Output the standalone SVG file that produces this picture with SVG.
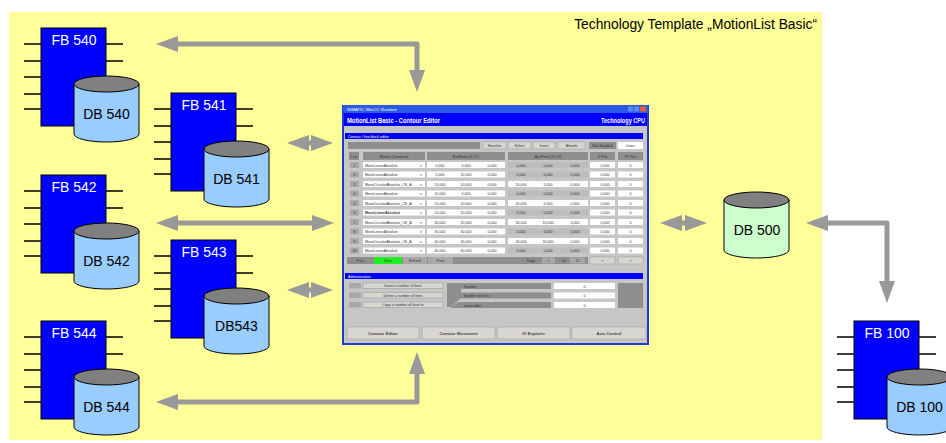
<svg xmlns="http://www.w3.org/2000/svg" width="946" height="443" viewBox="0 0 946 443">
<style>
.pin{stroke:#000;stroke-width:1.7}
.fb{fill:#0000ff;stroke:#000;stroke-width:1}
.cyl{fill:#99ccff;stroke:#000;stroke-width:1}
.cyl2{fill:#ccffcc;stroke:#000;stroke-width:1}
.top{fill:#808080;stroke:#000;stroke-width:1}
.fbt{font-family:"Liberation Sans",Arial,sans-serif;font-size:14px;fill:#fff;text-anchor:middle}
.dbt{font-family:"Liberation Sans",Arial,sans-serif;font-size:14px;fill:#000;text-anchor:middle}
.arr{fill:none;stroke:#999;stroke-width:5;stroke-linejoin:round;marker-start:url(#ah);marker-end:url(#ah)}
.t{font-family:"Liberation Sans",Arial,sans-serif;font-size:3.6px;fill:#333;text-anchor:middle}
.tl{font-family:"Liberation Sans",Arial,sans-serif;font-size:3.6px;fill:#333}
.tw{font-family:"Liberation Sans",Arial,sans-serif;font-size:3.6px;fill:#fff}
.tb{font-family:"Liberation Sans",Arial,sans-serif;font-size:4.2px;font-weight:bold;fill:#444;text-anchor:middle}
.w{fill:#fff}
.g1{fill:#a8a8a8}
.g2{fill:#8e8e8e}
.g3{fill:#bdbdbd}
.btn{fill:#d8d6d0;stroke:#a0a0a0;stroke-width:0.6}
</style>
<defs>
<marker id="ah" viewBox="0 0 22 16" refX="1" refY="8" markerWidth="22" markerHeight="16" markerUnits="userSpaceOnUse" orient="auto-start-reverse">
<path d="M0,0 L22,8 L0,16 z" fill="#999"/>
</marker>
</defs>
<rect x="9" y="12" width="813" height="428" fill="#ffff99"/>
<text x="817" y="29" font-family="Liberation Sans, Arial, sans-serif" font-size="13.8" text-anchor="end" fill="#000">Technology Template „MotionList Basic“</text>

<g id="connectors">
<path class="arr" d="M177,44 L417,44 L417,71"/>
<path class="arr" d="M308,143 L312,143"/>
<path class="arr" d="M177,223 L313,223"/>
<path class="arr" d="M308,290 L312,290"/>
<path class="arr" d="M177,402 L417,402 L417,373"/>
<path class="arr" d="M681,223 L686,223"/>
<path class="arr" d="M827,223 L887,223 L887,282"/>
</g>

<g id="fb540" transform="translate(41,28)">
<path class="pin" d="M-17,16H0M-17,33H0M-17,49H0M-17,66H0M-17,81H0M65,16H82M65,33H82"/>
<rect class="fb" x="0" y="0" width="65" height="98"/>
<text class="fbt" x="33" y="17">FB 540</text>
<path class="cyl" d="M33,56 V106 A32.5,8 0 0 0 98,106 V56 Z"/>
<ellipse class="top" cx="65.5" cy="56" rx="32.5" ry="8"/>
<text class="dbt" x="65.5" y="91">DB 540</text>
</g>
<g id="fb541" transform="translate(171,93)">
<path class="pin" d="M-17,16H0M-17,33H0M-17,49H0M-17,66H0M-17,81H0M65,16H82M65,33H82"/>
<rect class="fb" x="0" y="0" width="65" height="98"/>
<text class="fbt" x="33" y="17">FB 541</text>
<path class="cyl" d="M33,56 V106 A32.5,8 0 0 0 98,106 V56 Z"/>
<ellipse class="top" cx="65.5" cy="56" rx="32.5" ry="8"/>
<text class="dbt" x="65.5" y="91">DB 541</text>
</g>
<g id="fb542" transform="translate(41,175)">
<path class="pin" d="M-17,16H0M-17,33H0M-17,49H0M-17,66H0M-17,81H0M65,16H82M65,33H82"/>
<rect class="fb" x="0" y="0" width="65" height="98"/>
<text class="fbt" x="33" y="17">FB 542</text>
<path class="cyl" d="M33,56 V106 A32.5,8 0 0 0 98,106 V56 Z"/>
<ellipse class="top" cx="65.5" cy="56" rx="32.5" ry="8"/>
<text class="dbt" x="65.5" y="91">DB 542</text>
</g>
<g id="fb543" transform="translate(171,240)">
<path class="pin" d="M-17,16H0M-17,33H0M-17,49H0M-17,66H0M-17,81H0M65,16H82M65,33H82"/>
<rect class="fb" x="0" y="0" width="65" height="98"/>
<text class="fbt" x="33" y="17">FB 543</text>
<path class="cyl" d="M33,56 V106 A32.5,8 0 0 0 98,106 V56 Z"/>
<ellipse class="top" cx="65.5" cy="56" rx="32.5" ry="8"/>
<text class="dbt" x="65.5" y="91">DB543</text>
</g>
<g id="fb544" transform="translate(41,321)">
<path class="pin" d="M-17,16H0M-17,33H0M-17,49H0M-17,66H0M-17,81H0M65,16H82M65,33H82"/>
<rect class="fb" x="0" y="0" width="65" height="98"/>
<text class="fbt" x="33" y="17">FB 544</text>
<path class="cyl" d="M33,56 V106 A32.5,8 0 0 0 98,106 V56 Z"/>
<ellipse class="top" cx="65.5" cy="56" rx="32.5" ry="8"/>
<text class="dbt" x="65.5" y="91">DB 544</text>
</g>
<g id="fb100" transform="translate(854,321)">
<path class="pin" d="M-17,16H0M-17,33H0M-17,49H0M-17,66H0M-17,81H0M65,16H82M65,33H82"/>
<rect class="fb" x="0" y="0" width="65" height="98"/>
<text class="fbt" x="33" y="17">FB 100</text>
<path class="cyl" d="M33,56 V106 A32.5,8 0 0 0 98,106 V56 Z"/>
<ellipse class="top" cx="65.5" cy="56" rx="32.5" ry="8"/>
<text class="dbt" x="65.5" y="91">DB 100</text>
</g>
<g id="db500">
<path class="cyl2" d="M724,200 V250 A32.5,8 0 0 0 789,250 V200 Z"/>
<ellipse class="top" cx="756.5" cy="200" rx="32.5" ry="8"/>
<text class="dbt" x="757" y="235">DB 500</text>
</g>

<g id="screen">
<rect x="343" y="106" width="305" height="238" fill="#c6c6c6" stroke="#1e3cd2" stroke-width="2"/>
<rect x="343" y="105" width="305" height="8" fill="#2a5ae6"/>
<text class="tw" x="347" y="111" textLength="50" lengthAdjust="spacingAndGlyphs">SIMATIC WinCC Runtime</text>
<rect x="628" y="106.5" width="5" height="5" fill="#5a8af2"/>
<rect x="634" y="106.5" width="5" height="5" fill="#5a8af2"/>
<rect x="640" y="106.5" width="6" height="5" fill="#e0602a"/>
<rect x="344" y="113" width="303" height="13" fill="#0000ff"/>
<text x="347" y="122.5" font-family="Liberation Sans, Arial, sans-serif" font-size="7.5" font-weight="bold" fill="#fff" textLength="93" lengthAdjust="spacingAndGlyphs">MotionList Basic - Contour Editor</text>
<text x="645" y="122.5" font-family="Liberation Sans, Arial, sans-serif" font-size="7.5" font-weight="bold" fill="#fff" text-anchor="end" textLength="44" lengthAdjust="spacingAndGlyphs">Technology CPU</text>

<rect x="345" y="133" width="298" height="6" fill="#0000ff"/>
<text class="tw" x="348" y="137.5">Contour / line-block editor</text>

<rect x="348" y="142" width="132" height="7" class="g2"/>
<rect x="483" y="142" width="23" height="7" class="btn"/><text class="t" x="494.5" y="147">Simulate</text>
<rect x="508" y="142" width="23" height="7" class="btn" stroke="#333"/><text class="t" x="519.5" y="147">Select</text>
<rect x="533" y="142" width="22" height="7" class="btn"/><text class="t" x="544" y="147">Insert</text>
<rect x="558" y="142" width="27" height="7" class="btn"/><text class="t" x="571.5" y="147">Absorb</text>
<rect x="589" y="142" width="27" height="7" class="g2"/><text class="t" x="602.5" y="147">Edit Enabled</text>
<rect x="618" y="142" width="25" height="7" class="w"/><text class="t" x="630.5" y="147">Lines</text>

<g id="table-head">
<rect x="349" y="152" width="10" height="8" class="g2"/><text class="t" x="354" y="157.5">Line</text>
<rect x="363" y="152" width="62" height="8" class="g2"/><text class="t" x="394" y="157.5">Motion Command</text>
<rect x="427" y="152" width="78" height="8" class="g2"/><text class="t" x="466" y="157.5">EndPoint (X,Y,Z)</text>
<rect x="508" y="152" width="80" height="8" class="g2"/><text class="t" x="548" y="157.5">AuxPoint (X,Y,Z)</text>
<rect x="590" y="152" width="25" height="8" class="g2"/><text class="t" x="602.5" y="157.5">X Pos</text>
<rect x="618" y="152" width="25" height="8" class="g2"/><text class="t" x="630.5" y="157.5">Pk Pos</text>
</g>

<g id="rows">
<g transform="translate(0,162)">
<rect x="350" y="0" width="9" height="6" class="g1"/><text class="t" x="354.5" y="4.5">1</text>
<rect x="363" y="0" width="62" height="6" class="w"/><text class="tl" x="365" y="4.5">MoveLinearAbsolute</text><text class="tl" x="420" y="4.5">v</text>
<rect x="427" y="0" width="78" height="6" class="w"/><text class="t" x="440" y="4.5">0,000</text><text class="t" x="466" y="4.5">0,000</text><text class="t" x="492" y="4.5">0,000</text>
<rect x="508" y="0" width="80" height="6" class="g3"/><text class="t" x="521" y="4.5">0,000</text><text class="t" x="548" y="4.5">0,000</text><text class="t" x="575" y="4.5">0,000</text>
<rect x="590" y="0" width="25" height="6" class="w"/><text class="t" x="605" y="4.5">0,000</text>
<rect x="618" y="0" width="25" height="6" class="w"/><text class="t" x="630.5" y="4.5">0</text>
</g>
<g transform="translate(0,171.5)">
<rect x="350" y="0" width="9" height="6" class="g1"/><text class="t" x="354.5" y="4.5">2</text>
<rect x="363" y="0" width="62" height="6" class="w"/><text class="tl" x="365" y="4.5">MoveLinearAbsolute</text><text class="tl" x="420" y="4.5">v</text>
<rect x="427" y="0" width="78" height="6" class="w"/><text class="t" x="440" y="4.5">0,000</text><text class="t" x="466" y="4.5">10,000</text><text class="t" x="492" y="4.5">0,000</text>
<rect x="508" y="0" width="80" height="6" class="g3"/><text class="t" x="521" y="4.5">0,000</text><text class="t" x="548" y="4.5">0,000</text><text class="t" x="575" y="4.5">0,000</text>
<rect x="590" y="0" width="25" height="6" class="w"/><text class="t" x="605" y="4.5">0,000</text>
<rect x="618" y="0" width="25" height="6" class="w"/><text class="t" x="630.5" y="4.5">0</text>
</g>
<g transform="translate(0,181)">
<rect x="350" y="0" width="9" height="6" class="g1"/><text class="t" x="354.5" y="4.5">3</text>
<rect x="363" y="0" width="62" height="6" class="w"/><text class="tl" x="365" y="4.5">MoveCircularAbsolute_CE_A</text><text class="tl" x="420" y="4.5">v</text>
<rect x="427" y="0" width="78" height="6" class="w"/><text class="t" x="440" y="4.5">10,000</text><text class="t" x="466" y="4.5">10,000</text><text class="t" x="492" y="4.5">0,000</text>
<rect x="508" y="0" width="80" height="6" class="w"/><text class="t" x="521" y="4.5">10,000</text><text class="t" x="548" y="4.5">5,000</text><text class="t" x="575" y="4.5">0,000</text>
<rect x="590" y="0" width="25" height="6" class="w"/><text class="t" x="605" y="4.5">0,000</text>
<rect x="618" y="0" width="25" height="6" class="w"/><text class="t" x="630.5" y="4.5">0</text>
</g>
<g transform="translate(0,190.5)">
<rect x="350" y="0" width="9" height="6" class="g1"/><text class="t" x="354.5" y="4.5">4</text>
<rect x="363" y="0" width="62" height="6" class="w"/><text class="tl" x="365" y="4.5">MoveLinearAbsolute</text><text class="tl" x="420" y="4.5">v</text>
<rect x="427" y="0" width="78" height="6" class="w"/><text class="t" x="440" y="4.5">10,000</text><text class="t" x="466" y="4.5">0,000</text><text class="t" x="492" y="4.5">0,000</text>
<rect x="508" y="0" width="80" height="6" class="g3"/><text class="t" x="521" y="4.5">0,000</text><text class="t" x="548" y="4.5">0,000</text><text class="t" x="575" y="4.5">0,000</text>
<rect x="590" y="0" width="25" height="6" class="w"/><text class="t" x="605" y="4.5">0,000</text>
<rect x="618" y="0" width="25" height="6" class="w"/><text class="t" x="630.5" y="4.5">0</text>
</g>
<g transform="translate(0,200)">
<rect x="350" y="0" width="9" height="6" class="g1"/><text class="t" x="354.5" y="4.5">5</text>
<rect x="363" y="0" width="62" height="6" class="w"/><text class="tl" x="365" y="4.5">MoveCircularAbsolute_CE_A</text><text class="tl" x="420" y="4.5">v</text>
<rect x="427" y="0" width="78" height="6" class="w"/><text class="t" x="440" y="4.5">20,000</text><text class="t" x="466" y="4.5">10,000</text><text class="t" x="492" y="4.5">0,000</text>
<rect x="508" y="0" width="80" height="6" class="w"/><text class="t" x="521" y="4.5">20,000</text><text class="t" x="548" y="4.5">5,000</text><text class="t" x="575" y="4.5">0,000</text>
<rect x="590" y="0" width="25" height="6" class="w"/><text class="t" x="605" y="4.5">0,000</text>
<rect x="618" y="0" width="25" height="6" class="w"/><text class="t" x="630.5" y="4.5">0</text>
</g>
<g transform="translate(0,209.5)">
<rect x="350" y="0" width="9" height="6" class="g1"/><text class="t" x="354.5" y="4.5">6</text>
<rect x="363" y="0" width="62" height="6" class="w"/><text class="tl" x="365" y="4.5" font-weight="bold">MoveLinearAbsolute</text><text class="tl" x="420" y="4.5">v</text>
<rect x="427" y="0" width="78" height="6" class="w"/><text class="t" x="440" y="4.5">20,000</text><text class="t" x="466" y="4.5">20,000</text><text class="t" x="492" y="4.5">0,000</text>
<rect x="508" y="0" width="80" height="6" class="g3"/><text class="t" x="521" y="4.5">0,000</text><text class="t" x="548" y="4.5">0,000</text><text class="t" x="575" y="4.5">0,000</text>
<rect x="590" y="0" width="25" height="6" class="w"/><text class="t" x="605" y="4.5">0,000</text>
<rect x="618" y="0" width="25" height="6" class="w"/><text class="t" x="630.5" y="4.5">0</text>
</g>
<g transform="translate(0,219)">
<rect x="350" y="0" width="9" height="6" class="g1"/><text class="t" x="354.5" y="4.5">7</text>
<rect x="363" y="0" width="62" height="6" class="w"/><text class="tl" x="365" y="4.5">MoveCircularAbsolute_CE_A</text><text class="tl" x="420" y="4.5">v</text>
<rect x="427" y="0" width="78" height="6" class="w"/><text class="t" x="440" y="4.5">30,000</text><text class="t" x="466" y="4.5">20,000</text><text class="t" x="492" y="4.5">0,000</text>
<rect x="508" y="0" width="80" height="6" class="w"/><text class="t" x="521" y="4.5">30,000</text><text class="t" x="548" y="4.5">10,000</text><text class="t" x="575" y="4.5">0,000</text>
<rect x="590" y="0" width="25" height="6" class="w"/><text class="t" x="605" y="4.5">0,000</text>
<rect x="618" y="0" width="25" height="6" class="w"/><text class="t" x="630.5" y="4.5">0</text>
</g>
<g transform="translate(0,228.5)">
<rect x="350" y="0" width="9" height="6" class="g1"/><text class="t" x="354.5" y="4.5">8</text>
<rect x="363" y="0" width="62" height="6" class="w"/><text class="tl" x="365" y="4.5">MoveLinearAbsolute</text><text class="tl" x="420" y="4.5">v</text>
<rect x="427" y="0" width="78" height="6" class="w"/><text class="t" x="440" y="4.5">30,000</text><text class="t" x="466" y="4.5">30,000</text><text class="t" x="492" y="4.5">0,000</text>
<rect x="508" y="0" width="80" height="6" class="g3"/><text class="t" x="521" y="4.5">0,000</text><text class="t" x="548" y="4.5">0,000</text><text class="t" x="575" y="4.5">0,000</text>
<rect x="590" y="0" width="25" height="6" class="w"/><text class="t" x="605" y="4.5">0,000</text>
<rect x="618" y="0" width="25" height="6" class="w"/><text class="t" x="630.5" y="4.5">0</text>
</g>
<g transform="translate(0,238)">
<rect x="350" y="0" width="9" height="6" class="g1"/><text class="t" x="354.5" y="4.5">9</text>
<rect x="363" y="0" width="62" height="6" class="w"/><text class="tl" x="365" y="4.5">MoveCircularAbsolute_CE_A</text><text class="tl" x="420" y="4.5">v</text>
<rect x="427" y="0" width="78" height="6" class="w"/><text class="t" x="440" y="4.5">40,000</text><text class="t" x="466" y="4.5">30,000</text><text class="t" x="492" y="4.5">0,000</text>
<rect x="508" y="0" width="80" height="6" class="w"/><text class="t" x="521" y="4.5">40,000</text><text class="t" x="548" y="4.5">20,000</text><text class="t" x="575" y="4.5">0,000</text>
<rect x="590" y="0" width="25" height="6" class="w"/><text class="t" x="605" y="4.5">0,000</text>
<rect x="618" y="0" width="25" height="6" class="w"/><text class="t" x="630.5" y="4.5">0</text>
</g>
<g transform="translate(0,247.5)">
<rect x="350" y="0" width="9" height="6" class="g1"/><text class="t" x="354.5" y="4.5">10</text>
<rect x="363" y="0" width="62" height="6" class="w"/><text class="tl" x="365" y="4.5">MoveLinearAbsolute</text><text class="tl" x="420" y="4.5">v</text>
<rect x="427" y="0" width="78" height="6" class="w"/><text class="t" x="440" y="4.5">40,000</text><text class="t" x="466" y="4.5">40,000</text><text class="t" x="492" y="4.5">0,000</text>
<rect x="508" y="0" width="80" height="6" class="g3"/><text class="t" x="521" y="4.5">0,000</text><text class="t" x="548" y="4.5">0,000</text><text class="t" x="575" y="4.5">0,000</text>
<rect x="590" y="0" width="25" height="6" class="w"/><text class="t" x="605" y="4.5">0,000</text>
<rect x="618" y="0" width="25" height="6" class="w"/><text class="t" x="630.5" y="4.5">0</text>
</g>
</g>

<g id="nav">
<rect x="347" y="257" width="241" height="7" class="g2"/>
<text class="t" x="360" y="262">Prev</text>
<rect x="374" y="257" width="28" height="7" fill="#22ee22"/><text class="t" x="388" y="262">Next</text>
<rect x="403" y="257" width="24" height="7" class="g1"/><text class="t" x="415" y="262">Refresh</text>
<rect x="428" y="257" width="25" height="7" class="g1"/><text class="t" x="440.5" y="262">Print</text>
<text class="t" x="531" y="262">Page</text>
<rect x="542" y="257.5" width="13" height="6" class="g1"/><text class="t" x="548.5" y="262">1</text>
<text class="t" x="564" y="262">of</text>
<rect x="570" y="257.5" width="15" height="6" class="g1"/><text class="t" x="577.5" y="262">10</text>
<rect x="590" y="257" width="25" height="7" class="btn"/><text class="t" x="602.5" y="262">&lt;</text>
<rect x="618" y="257" width="25" height="7" class="btn"/><text class="t" x="630.5" y="262">&gt;</text>
</g>

<rect x="345" y="273" width="298" height="6" fill="#0000ff"/>
<text class="tw" x="348" y="277.5">Administration</text>

<g id="admin">
<rect x="349" y="283" width="12" height="5.5" class="g1"/>
<rect x="349" y="292.5" width="12" height="5.5" class="g1"/>
<rect x="349" y="302" width="12" height="5.5" class="g1"/>
<rect x="363" y="283" width="80" height="5.5" class="btn"/><text class="t" x="403" y="287.2">Insert a number of lines</text>
<rect x="363" y="292.5" width="80" height="5.5" class="btn"/><text class="t" x="403" y="296.7">Delete a number of lines</text>
<rect x="363" y="302" width="80" height="5.5" class="btn"/><text class="t" x="403" y="306.2">Copy a number of lines to</text>
<polygon points="447,283 461,283 461,298 451,307 447,307" class="g2"/>
<rect x="461" y="283" width="90" height="6" class="g2"/><text class="tl" x="464" y="287.5">Number</text>
<rect x="461" y="292.5" width="90" height="6" class="g2"/><text class="tl" x="464" y="297">Number of lines</text>
<polygon points="451,307 458,302 551,302 551,308 451,308" class="g2"/><text class="tl" x="464" y="306.5">Insert after</text>
<rect x="554" y="283" width="61" height="6" class="w"/><text class="t" x="584.5" y="287.5">0</text>
<rect x="554" y="292.5" width="61" height="6" class="w"/><text class="t" x="584.5" y="297">0</text>
<rect x="554" y="302" width="61" height="6" class="w"/><text class="t" x="584.5" y="306.5">0</text>
<rect x="618" y="283" width="25" height="25" class="g2"/>
</g>

<g id="bottom-buttons">
<rect x="347" y="327" width="72" height="12" class="btn"/><text class="tb" x="383" y="334.5">Contour Editor</text>
<rect x="422" y="327" width="73" height="12" class="btn"/><text class="tb" x="458.5" y="334.5">Contour Movement</text>
<rect x="497" y="327" width="73" height="12" class="btn"/><text class="tb" x="533.5" y="334.5">IO Explorer</text>
<rect x="572" y="327" width="74" height="12" class="btn"/><text class="tb" x="609" y="334.5">Axis Control</text>
</g>
</g>
</svg>
